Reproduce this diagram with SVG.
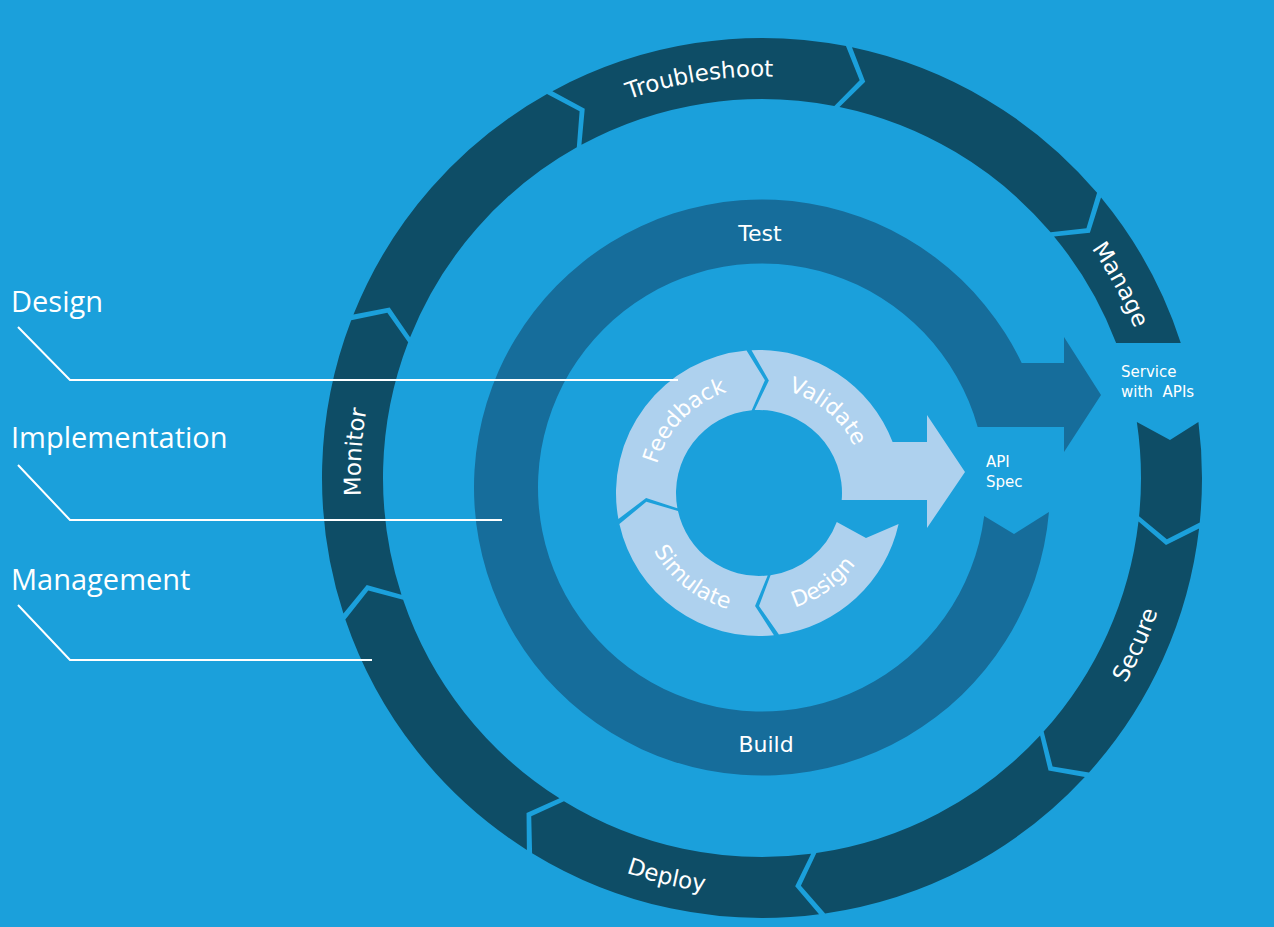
<svg xmlns="http://www.w3.org/2000/svg" width="1274" height="927" viewBox="0 0 1274 927">
<defs>
<style>
.dark{fill:#0e4d66}
.mid{fill:#166d9b}
.light{fill:#aed1ee}
.lbl{font-family:"DejaVu Sans",Verdana,sans-serif;fill:#ffffff}
.ring{font-size:23px}
.inner{font-size:22px}
.small{font-size:15px}
.big{font-size:22px}
.side{font-family:"Open Sans","Liberation Sans",sans-serif;font-size:29px;fill:#ffffff}
.lead{fill:none;stroke:#ffffff;stroke-width:2}
</style>
<path id="segA" d="M440,0 A440,440 0 0 1 342.19,276.60 L305.51,272.68 L294.75,238.26 A379,379 0 0 0 379,0 L409.01,20.00 Z"/>
<path id="outerCW" d="M1163.5,478 A401.5,401.5 0 1 1 360.5,478 A401.5,401.5 0 1 1 1163.5,478"/>
<path id="outerCCW" d="M344.5,478 A417.5,417.5 0 1 0 1179.5,478 A417.5,417.5 0 1 0 344.5,478"/>
<path id="innerCW" d="M865,493 A106,106 0 1 1 653,493 A106,106 0 1 1 865,493"/>
<path id="innerCCW" d="M639,493 A120,120 0 1 0 879,493 A120,120 0 1 0 639,493"/>
</defs>
<rect x="0" y="0" width="1274" height="927" fill="#1ba0db"/>

<g id="outer-ring">
  <g id="troubleshoot">
    <path class="dark" transform="translate(762,478) rotate(241.55)" d="M440,0 A440,440 0 0 1 339.76,279.58 L303.12,275.34 L292.66,240.82 A379,379 0 0 0 379,0 L409.01,20.00 Z"/>
    <text class="lbl ring" text-anchor="middle"><textPath href="#outerCW" startOffset="1828.9">Troubleshoot</textPath></text>
  </g>
  <g id="outer-seg-top-right">
    <path class="dark" transform="translate(762,478) rotate(281.8)" d="M440,0 A440,440 0 0 1 347.67,269.68 L310.92,266.49 L299.47,232.29 A379,379 0 0 0 379,0 L409.01,20.00 Z"/>
  </g>
  <g id="manage">
    <path class="dark" d="M1101.03,197.53 A440,440 0 0 1 1180.78,343 L1116.14,343 A379,379 0 0 0 1054.02,236.42 L1089.90,232.70 Z"/>
    <text class="lbl ring" text-anchor="middle"><textPath href="#outerCW" startOffset="2322.9">Manage</textPath></text>
  </g>
  <g id="outer-seg-right">
    <path class="dark" d="M1198.42,422 A440,440 0 0 1 1199.75,522.46 L1166.90,539.23 L1139.06,516.30 A379,379 0 0 0 1136.84,422 L1170,440 Z"/>
  </g>
  <g id="secure">
    <path class="dark" transform="translate(762,478) rotate(6.6)" d="M440,0 A440,440 0 0 1 358.66,254.88 L321.81,253.24 L308.93,219.55 A379,379 0 0 0 379,0 L409.01,20.00 Z"/>
    <text class="lbl ring" text-anchor="middle"><textPath href="#outerCCW" startOffset="1136">Secure</textPath></text>
  </g>
  <g id="outer-seg-bottom-right">
    <use href="#segA" class="dark" transform="translate(762,478) rotate(42.8)"/>
  </g>
  <g id="deploy">
    <use href="#segA" class="dark" transform="translate(762,478) rotate(82.55)"/>
    <text class="lbl ring" text-anchor="middle"><textPath href="#outerCCW" startOffset="557.4">Deploy</textPath></text>
  </g>
  <g id="outer-seg-lower-left">
    <use href="#segA" class="dark" transform="translate(762,478) rotate(122.3)"/>
  </g>
  <g id="monitor">
    <use href="#segA" class="dark" transform="translate(762,478) rotate(162.05)"/>
    <text class="lbl ring" text-anchor="middle"><textPath href="#outerCW" startOffset="1286.5">Monitor</textPath></text>
  </g>
  <g id="outer-seg-upper-left">
    <use href="#segA" class="dark" transform="translate(762,478) rotate(201.8)"/>
  </g>
</g>

<g id="middle-ring">
  <path class="mid" d="M1048.96,512 A288,288 0 1 1 1021.70,363 L1064,363 L1064,337 L1101,395 L1064,452 L1064,427 L977.68,427 A224,224 0 1 0 984.18,516 L1014,534 Z"/>
  <text class="lbl big" x="760" y="241" text-anchor="middle">Test</text>
  <text class="lbl big" x="766" y="752" text-anchor="middle">Build</text>
</g>

<g id="inner-ring">
  <g id="feedback">
    <path class="light" d="M618.39,519.06 A143,143 0 0 1 746.54,350.54 L764.91,380.15 L751.77,410.32 A83,83 0 0 0 677.39,508.13 L646.11,497.93 Z"/>
    <text class="lbl inner" text-anchor="middle"><textPath href="#innerCW" startOffset="414.1">Feedback</textPath></text>
  </g>
  <g id="validate">
    <path class="light" d="M751.52,350.20 A143,143 0 0 1 892.60,442 L927,442 L927,415 L965,472 L927,528 L927,500 L841.70,500 A83,83 0 0 0 754.66,410.11 L768.85,380.43 Z"/>
    <text class="lbl inner" text-anchor="middle"><textPath href="#innerCW" startOffset="573">Validate</textPath></text>
  </g>
  <g id="design-inner">
    <path class="light" d="M898.60,524 A143,143 0 0 1 778.90,634.61 L759,606 L770.55,575.19 A83,83 0 0 0 836.77,522 L866,538 Z"/>
    <text class="lbl inner" text-anchor="middle"><textPath href="#innerCCW" startOffset="262.6">Design</textPath></text>
  </g>
  <g id="simulate">
    <path class="light" d="M773.95,635.22 A143,143 0 0 1 619.39,523.95 L646.35,501.87 L677.97,510.96 A83,83 0 0 0 767.68,575.55 L755.06,605.93 Z"/>
    <text class="lbl inner" text-anchor="middle"><textPath href="#innerCCW" startOffset="108.5">Simulate</textPath></text>
  </g>
</g>

<g id="service-with-apis">
  <text class="lbl small" x="1121" y="377">Service</text>
  <text class="lbl small" x="1121" y="397" word-spacing="5">with APIs</text>
</g>
<g id="api-spec">
  <text class="lbl small" x="986" y="467">API</text>
  <text class="lbl small" x="986" y="487">Spec</text>
</g>

<g id="side-labels">
  <text class="side" x="11" y="312">Design</text>
  <text class="side" x="11" y="448">Implementation</text>
  <text class="side" x="11" y="590">Management</text>
</g>

<g id="connectors">
  <polyline class="lead" points="18,327 70,380 678,380"/>
  <polyline class="lead" points="18,465 70,520 502,520"/>
  <polyline class="lead" points="18,605 70,660 372,660"/>
</g>
</svg>
